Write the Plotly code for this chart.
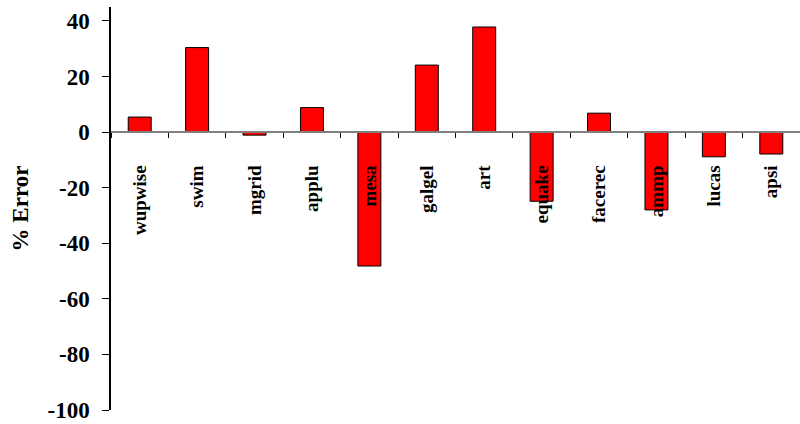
import plotly.graph_objects as go

# benchmark names and % error values
benchmarks = ["wupwise", "swim", "mgrid", "applu", "mesa", "galgel",
              "art", "equake", "facerec", "ammp", "lucas", "apsi"]
errors = [5.4, 30.4, -1.1, 8.8, -48.2, 24.1, 37.8, -24.9, 6.8, -28.0, -8.9, -7.9]
y_ticks = [40, 20, 0, -20, -40, -60, -80, -100]
y_tick_text = ["40", "20", "0", "-20", "-40", "-60", "-80", "-100"]  # plain hyphens

y_min, y_max = -100, 45

fig = go.Figure(go.Bar(
    x=benchmarks,
    y=errors,
    width=0.4,
    marker=dict(color="#ff0000", line=dict(color="black", width=1)),
    showlegend=False,
))

serif = "Liberation Serif, Times New Roman, serif"

fig.update_layout(
    width=800, height=424,
    margin=dict(l=111, r=0, t=7, b=14),
    plot_bgcolor="white",
    paper_bgcolor="white",
    font=dict(family=serif, color="black"),
    xaxis=dict(
        anchor="free",
        position=(0 - y_min) / (y_max - y_min),  # sits on y = 0
        showline=True, linecolor="#808080", linewidth=1.5,
        ticks="outside", ticklen=5, tickcolor="black", tickwidth=1,
        tickson="boundaries",
        tickangle=-90,
        ticklabelstandoff=25,
        tickfont=dict(family=serif, size=19, weight="bold"),
        showgrid=False,
        range=[-0.5, 11.5],
    ),
    yaxis=dict(
        range=[y_min, y_max],
        tickvals=y_ticks,
        ticktext=y_tick_text,
        showline=True, linecolor="black", linewidth=1.5,
        ticks="outside", ticklen=7, tickcolor="black",
        ticklabelstandoff=8,
        tickfont=dict(family=serif, size=23, weight="bold"),
        showgrid=False, zeroline=False,
        title=dict(text="% Error", standoff=12,
                   font=dict(family=serif, size=23, weight="bold")),
    ),
)

# drop the default page margin so the chart fills the window exactly
fig.write_html("out.html", config={"displayModeBar": False},
               post_script="document.body.style.margin='0';")
